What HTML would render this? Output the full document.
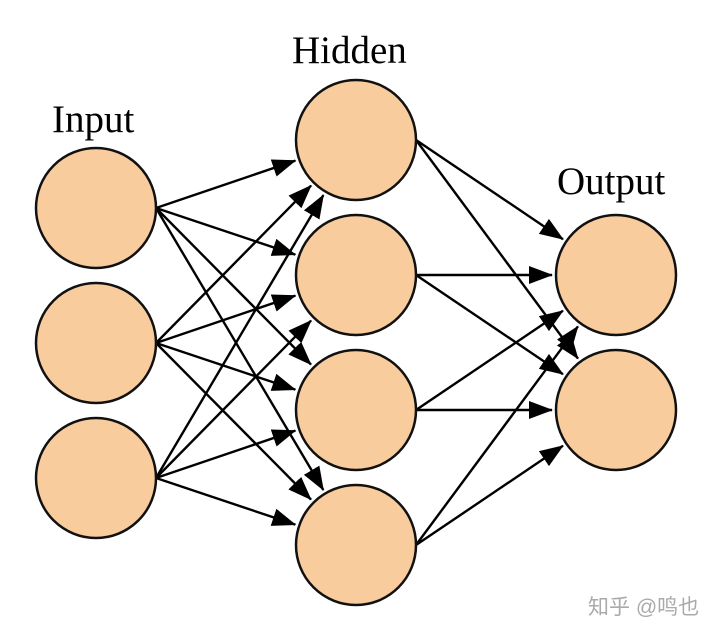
<!DOCTYPE html>
<html><head><meta charset="utf-8"><style>
html,body{margin:0;padding:0;background:#fff;width:720px;height:637px;overflow:hidden}
svg{display:block}
text{font-family:"Liberation Serif",serif;font-size:39px;fill:#000}
</style></head><body>
<svg id="s" width="720" height="637" viewBox="0 0 720 637" xmlns="http://www.w3.org/2000/svg">
<defs><marker id="a" markerUnits="userSpaceOnUse" markerWidth="24" markerHeight="18" refX="23" refY="9" orient="auto"><path d="M0,0 L24,9 L0,18 z" fill="#000"/></marker></defs>
<g id="lines" stroke="#000" stroke-width="2.4" fill="none"></g>
<g id="nodes" fill="#f8cc9c" stroke="#111" stroke-width="2.5"></g>
<text x="52" y="132">Input</text>
<text x="292" y="63">Hidden</text>
<text x="557" y="194">Output</text>
<text x="588" y="614" style="font-family:'Liberation Sans','Noto Sans CJK SC',sans-serif;font-size:21px;fill:#aaa">知乎 @鸣也</text>
</svg>
<script>
var R=60,inp=[[96,208],[96,343],[96,478]],hid=[[356,140],[356,275],[356,410],[356,545]],out=[[616,275],[616,410]];
var L=document.getElementById('lines'),N=document.getElementById('nodes'),ns='http://www.w3.org/2000/svg';
function edge(s,t){var x0=s[0]+R,y0=s[1];var dx=t[0]-x0,dy=t[1]-y0,d=Math.hypot(dx,dy);
var k=(d-R-4)/d;var l=document.createElementNS(ns,'line');l.setAttribute('x1',x0);l.setAttribute('y1',y0);
l.setAttribute('x2',x0+dx*k);l.setAttribute('y2',y0+dy*k);l.setAttribute('marker-end','url(#a)');L.appendChild(l);}
inp.forEach(function(s){hid.forEach(function(t){edge(s,t)})});
hid.forEach(function(s){out.forEach(function(t){edge(s,t)})});
inp.concat(hid,out).forEach(function(c){var e=document.createElementNS(ns,'circle');e.setAttribute('cx',c[0]);e.setAttribute('cy',c[1]);e.setAttribute('r',R);N.appendChild(e);});
</script>
</body></html>
